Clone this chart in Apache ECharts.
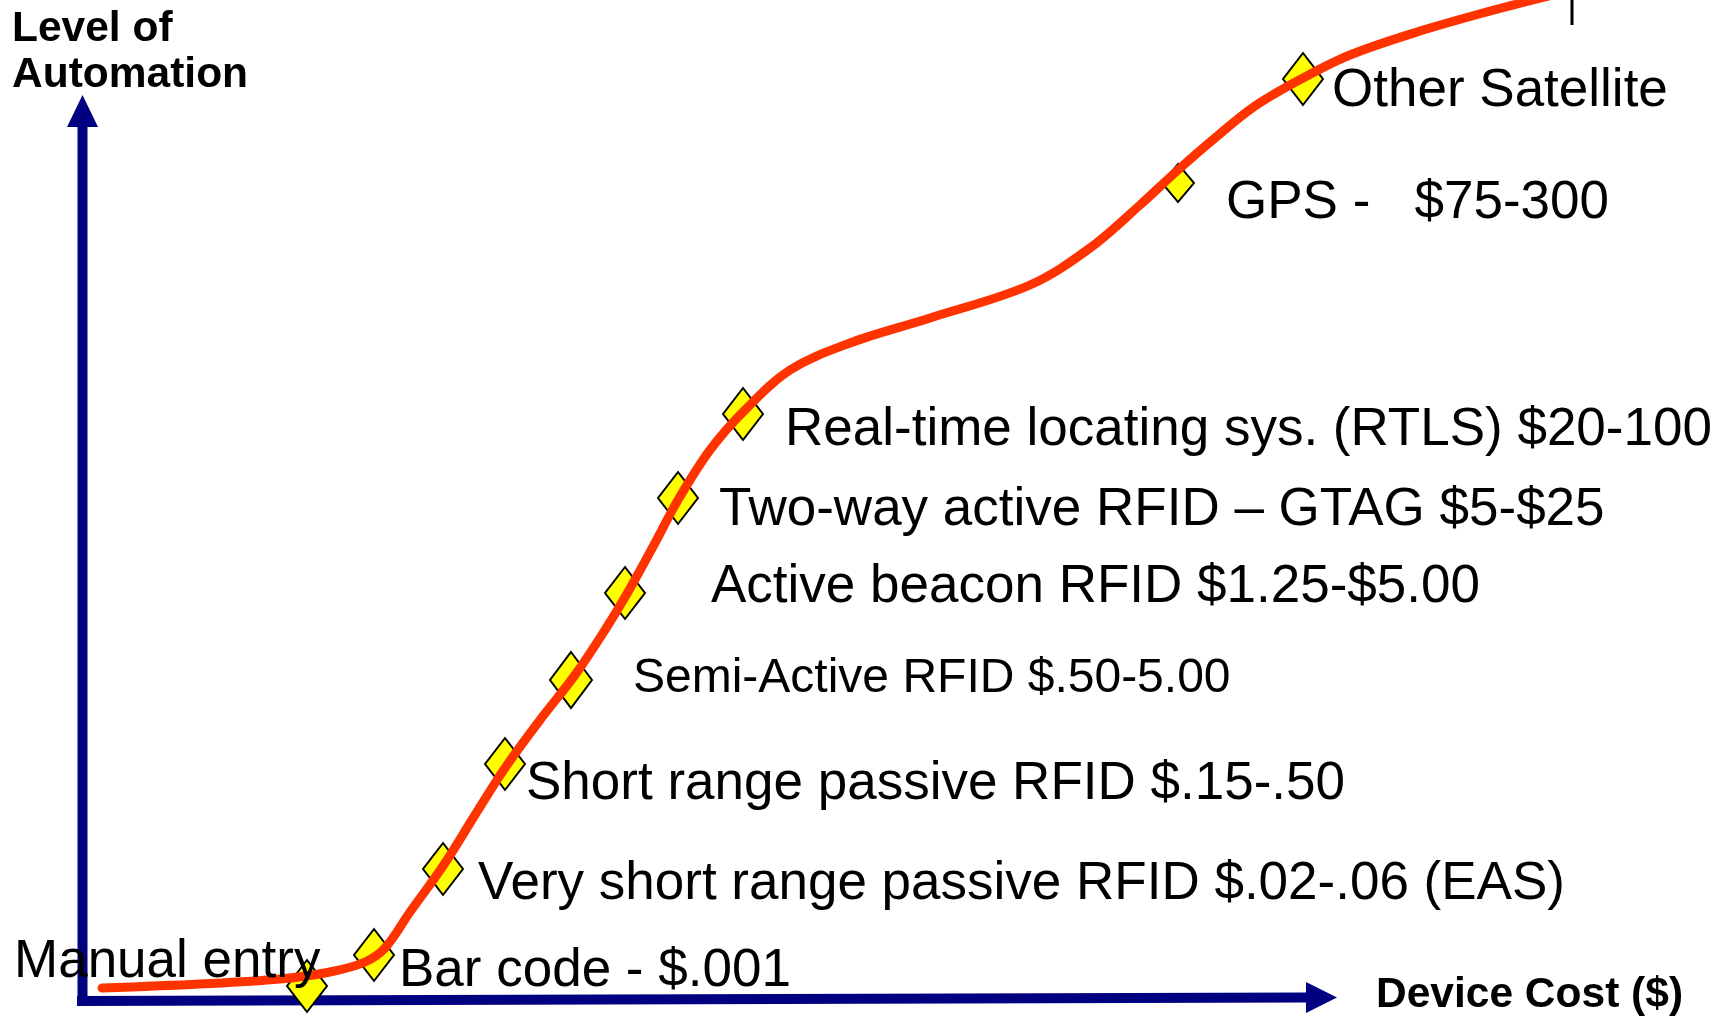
<!DOCTYPE html>
<html>
<head>
<meta charset="utf-8">
<script src="https://cdn.jsdelivr.net/npm/echarts@6/dist/echarts.min.js"></script>
<style>
  html, body { margin: 0; padding: 0; background: #fff; }
  #chart { width: 1732px; height: 1016px; }
</style>
</head>
<body>
<div id="chart"></div>
<script>
// the picture is a hand-drawn sketch, so everything lives in one pixel-like space
const curveX = [102, 200, 280, 330, 365, 385, 410, 443, 475, 505, 540, 575, 605, 628, 655, 678, 710, 745, 790, 850, 930, 1030, 1090, 1140, 1178, 1215, 1255, 1303, 1350, 1417, 1483, 1533, 1580];
const curveY = [988, 984, 979, 972, 962, 948, 912, 866, 815, 768, 720, 675, 630, 592, 543, 500, 450, 410, 370, 343, 318, 285, 248, 205, 170, 138, 106, 78, 55, 32, 13, 0, -12];

const techNames = ['Manual entry', 'Bar code', 'Very short range passive RFID', 'Short range passive RFID', 'Semi-Active RFID', 'Active beacon RFID', 'Two-way active RFID', 'RTLS', 'GPS', 'Other Satellite'];
const techX = [307, 374, 443, 505, 571, 625, 678, 743, 1178, 1303];
const techY = [986, 955, 869, 764, 680, 593, 498, 414, 183, 79];

const labelTexts = ['Manual entry', 'Bar code - $.001', 'Very short range passive RFID $.02-.06 (EAS)', 'Short range passive RFID $.15-.50', 'Semi-Active RFID $.50-5.00', 'Active beacon RFID $1.25-$5.00', 'Two-way active RFID \u2013 GTAG $5-$25', 'Real-time locating sys. (RTLS) $20-100', 'GPS -   $75-300', 'Other Satellite'];
const labelX = [14, 399, 478, 526, 633, 711, 719, 785, 1226, 1332];
const labelY = [962, 971, 884, 784, 679, 587, 510, 430, 203, 91];

const axisTitles = ['Level of', 'Automation', 'Device Cost ($)'];
const axisTitleX = [12, 12, 1376];
const axisTitleY = [29, 75, 995];

const yAxisLine = [[82.5, 1006], [82.5, 127]];
const xAxisLine = [[77, 1001], [1306, 997.5]];
const arrowHeads = [[82.5, 111], [1321.5, 997.5]];
const cornerTick = [[1572, 0], [1572, 25]];

const FONT = '"Liberation Sans", Arial, Helvetica, sans-serif';
const NAVY = '#000080';

const chart = echarts.init(document.getElementById('chart'));

const textLabel = {
  show: true,
  position: [0, 0],
  align: 'left',
  verticalAlign: 'middle',
  formatter: '{b}',
  color: '#000',
  opacity: 1,
  textBorderWidth: 0,
  fontFamily: FONT
};

const option = {
  animation: false,
  grid: { left: 0, right: 0, top: 0, bottom: 0 },
  xAxis: { type: 'value', min: 0, max: 1732, show: false },
  yAxis: { type: 'value', min: 0, max: 1016, inverse: true, show: false },
  series: [
    {
      type: 'line', z: 1, silent: true, showSymbol: false,
      data: yAxisLine,
      lineStyle: { color: NAVY, width: 10, cap: 'butt', opacity: 1 }
    },
    {
      type: 'line', z: 1, silent: true, showSymbol: false,
      data: xAxisLine,
      lineStyle: { color: NAVY, width: 10, cap: 'butt', opacity: 1 }
    },
    {
      type: 'scatter', z: 1, silent: true,
      symbol: 'triangle',
      data: arrowHeads.map((p, i) => ({
        value: p,
        symbolSize: i === 0 ? [31, 32] : [31, 31],
        symbolRotate: i === 0 ? 0 : -90
      })),
      itemStyle: { color: NAVY, opacity: 1 }
    },
    {
      type: 'line', z: 1, silent: true, showSymbol: false,
      data: cornerTick,
      lineStyle: { color: '#000', width: 3, opacity: 1 }
    },
    {
      type: 'scatter', z: 2, silent: true,
      symbol: 'diamond',
      data: techNames.map((n, i) => ({
        name: n,
        value: [techX[i], techY[i]],
        symbolSize: n === 'GPS' ? [32, 38] : (n === 'Semi-Active RFID' ? [42, 56] : [40, 52])
      })),
      itemStyle: { color: '#FFFF00', borderColor: '#000', borderWidth: 2, opacity: 1 }
    },
    {
      type: 'line', z: 3, silent: true, showSymbol: false,
      smooth: 0.35,
      data: curveX.map((x, i) => [x, curveY[i]]),
      lineStyle: { color: '#FF3300', width: 9, cap: 'round', join: 'round', opacity: 1 }
    },
    {
      type: 'scatter', z: 4, silent: true,
      symbolSize: 0,
      itemStyle: { opacity: 1 },
      data: labelTexts.map((t, i) => ({
        name: t,
        value: [labelX[i], labelY[i]],
        label: { fontSize: t.indexOf('Semi-Active') === 0 ? 48 : 53 }
      })),
      label: textLabel
    },
    {
      type: 'scatter', z: 4, silent: true,
      symbolSize: 0,
      itemStyle: { opacity: 1 },
      data: axisTitles.map((t, i) => ({ name: t, value: [axisTitleX[i], axisTitleY[i]] })),
      label: Object.assign({}, textLabel, { fontWeight: 'bold', fontSize: 42.5 })
    }
  ]
};

chart.setOption(option);
</script>
</body>
</html>
